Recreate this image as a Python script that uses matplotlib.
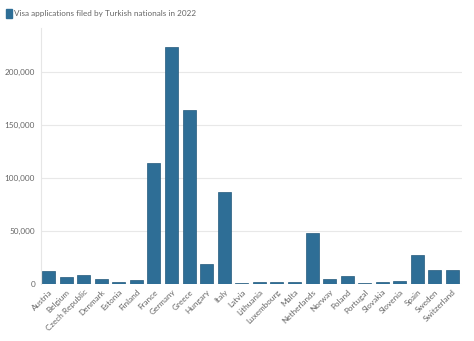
import matplotlib.pyplot as plt
from matplotlib.ticker import FuncFormatter

countries = ["Austria", "Belgium", "Czech Republic", "Denmark", "Estonia", "Finland",
             "France", "Germany", "Greece", "Hungary", "Italy", "Latvia", "Lithuania",
             "Luxembourg", "Malta", "Netherlands", "Norway", "Poland", "Portugal",
             "Slovakia", "Slovenia", "Spain", "Sweden", "Switzerland"]
applications = [12500, 6900, 8200, 5000, 1600, 3800,
                114400, 223200, 164100, 18900, 87000, 900, 1500,
                1500, 2200, 48000, 4400, 7800, 1200,
                1600, 2500, 27300, 13200, 13500]
yticks = [0, 50000, 100000, 150000, 200000]
title = "Visa applications filed by Turkish nationals in 2022"

plt.rcParams['font.family'] = ['Lato', 'DejaVu Sans']
bar_color = "#2e6e96"
text_color = "#666666"

fig = plt.figure(figsize=(4.74, 3.41), dpi=100)
ax = fig.add_axes([40.7 / 474, 57 / 341, (462 - 40.7) / 474, (284 - 28) / 341])

ax.bar(range(len(countries)), applications, width=0.74, color=bar_color,
       edgecolor="#245a7c", linewidth=0.5, zorder=3)

ax.set_xlim(-0.45, len(countries) - 0.46)
ax.set_ylim(0, 241400)
ax.set_yticks(yticks)
ax.yaxis.set_major_formatter(FuncFormatter(lambda v, p: f"{int(v):,}"))
ax.set_xticks(range(len(countries)))
ax.set_xticklabels(countries, rotation=45, ha="right", rotation_mode="anchor")

ax.grid(axis="y", color="#e8e8e8", linewidth=0.8, zorder=0)
for s in ["top", "right", "bottom"]:
    ax.spines[s].set_visible(False)
ax.spines["left"].set_color("#e6e6e6")
ax.spines["left"].set_linewidth(0.8)
ax.tick_params(axis="both", length=0, labelsize=5.9, colors=text_color, pad=4)
ax.tick_params(axis="x", pad=3)

# legend-like title at the top left
fig.patches.append(plt.Rectangle((6 / 474, 1 - 18 / 341), 6 / 474, 9 / 341,
                                 transform=fig.transFigure, color=bar_color,
                                 figure=fig))
fig.text(14 / 474, 1 - 13.5 / 341, title, fontsize=5.9, color=text_color, va="center")

fig.savefig("out.png", dpi=100)
